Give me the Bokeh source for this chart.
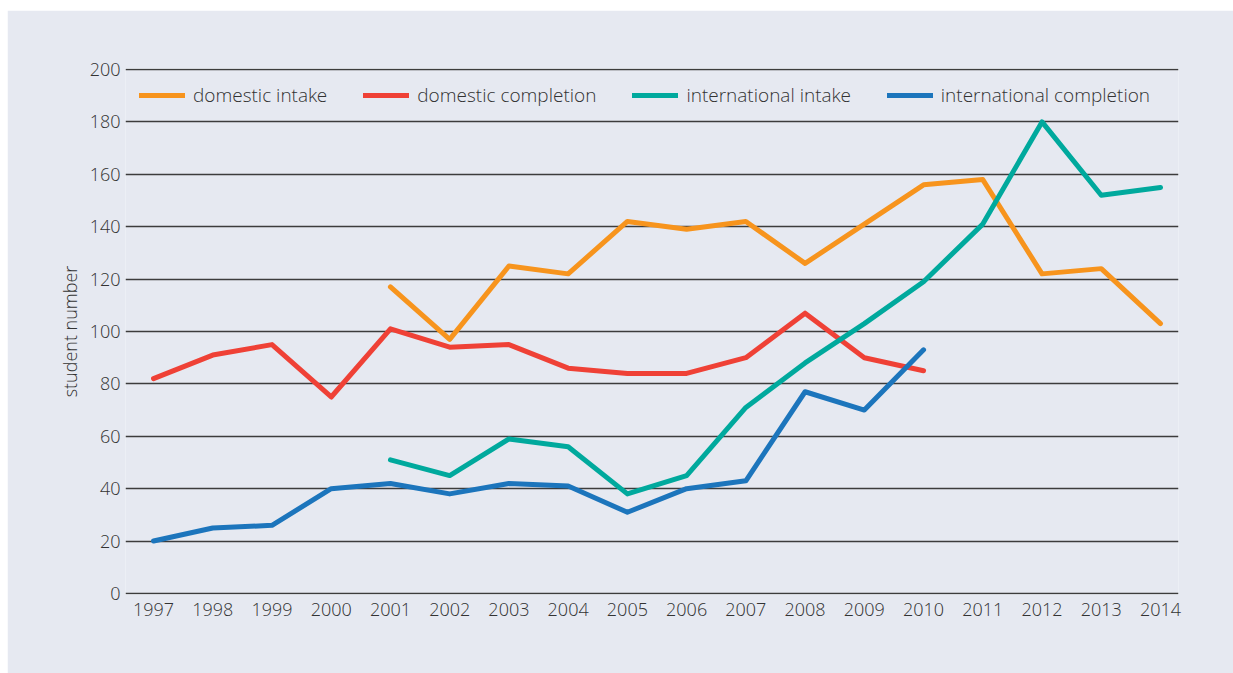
from bokeh.plotting import figure
from bokeh.models import Range1d, FixedTicker, Legend, LegendItem
from bokeh.embed import file_html
from bokeh.resources import INLINE

years_intake = [2001, 2002, 2003, 2004, 2005, 2006, 2007, 2008, 2009, 2010, 2011, 2012, 2013, 2014]
years_completion = [1997, 1998, 1999, 2000, 2001, 2002, 2003, 2004, 2005, 2006, 2007, 2008, 2009, 2010]

domestic_intake = [117, 97, 125, 122, 142, 139, 142, 126, 141, 156, 158, 122, 124, 103]
domestic_completion = [82, 91, 95, 75, 101, 94, 95, 86, 84, 84, 90, 107, 90, 85]
international_intake = [51, 45, 59, 56, 38, 45, 71, 88, 103, 119, 141, 180, 152, 155]
international_completion = [20, 25, 26, 40, 42, 38, 42, 41, 31, 40, 43, 77, 70, 93]

year_ticks = list(range(1997, 2015))
value_ticks = [0, 20, 40, 60, 80, 100, 120, 140, 160, 180, 200]

series_labels = ["domestic intake", "domestic completion", "international intake", "international completion"]
colors = ["#F7941D", "#EF4136", "#00A99D", "#1C75BC"]

BG = "#E6E9F1"
FONT = "Open Sans Light, Open Sans"
TXT = "#333333"

p = figure(width=1226, height=663, output_backend="svg", toolbar_location=None,
           x_range=Range1d(1996.527, 2014.304), y_range=Range1d(-0.4, 200.4),
           min_border_left=118, min_border_right=55, min_border_top=58, min_border_bottom=79)
p.styles = {"margin-top": "10px", "margin-left": "7px"}
p.background_fill_color = BG
p.border_fill_color = BG
p.outline_line_color = None

p.xgrid.grid_line_color = None
p.ygrid.grid_line_color = "#3c3c3c"
p.ygrid.grid_line_width = 1.4
p.ygrid.ticker = FixedTicker(ticks=value_ticks)

p.xaxis.ticker = FixedTicker(ticks=year_ticks)
p.yaxis.ticker = FixedTicker(ticks=value_ticks)
for ax in (p.xaxis, p.yaxis):
    ax.axis_line_color = None
    ax.major_tick_line_color = None
    ax.minor_tick_line_color = None
    ax.major_tick_out = 0
    ax.major_tick_in = 0
    ax.minor_tick_out = 0
    ax.minor_tick_in = 0
    ax.major_label_text_font = FONT
    ax.major_label_text_font_size = "18px"
    ax.major_label_text_color = TXT
p.xaxis.major_label_standoff = 8
p.yaxis.major_label_standoff = 5
p.yaxis.axis_label = "student number"
p.yaxis.axis_label_text_font = FONT
p.yaxis.axis_label_text_font_size = "18px"
p.yaxis.axis_label_text_font_style = "normal"
p.yaxis.axis_label_text_color = TXT
p.yaxis.axis_label_standoff = 5

xs_list = [years_intake, years_completion, years_intake, years_completion]
ys_list = [domestic_intake, domestic_completion, international_intake, international_completion]
items = []
for lab, xs, ys, c in zip(series_labels, xs_list, ys_list, colors):
    r = p.line(xs, ys, line_color=c, line_width=5, line_cap="round", line_join="round")
    items.append(LegendItem(label=lab, renderers=[r]))

legend = Legend(items=items, orientation="horizontal", location="top_left",
                margin=0, padding=14, spacing=36, glyph_width=46, glyph_height=26,
                label_height=26, label_standoff=8,
                label_text_font=FONT, label_text_font_size="19px", label_text_color=TXT,
                background_fill_alpha=0, border_line_alpha=0)
p.add_layout(legend)

open("out.html", "w").write(file_html(p, INLINE))
